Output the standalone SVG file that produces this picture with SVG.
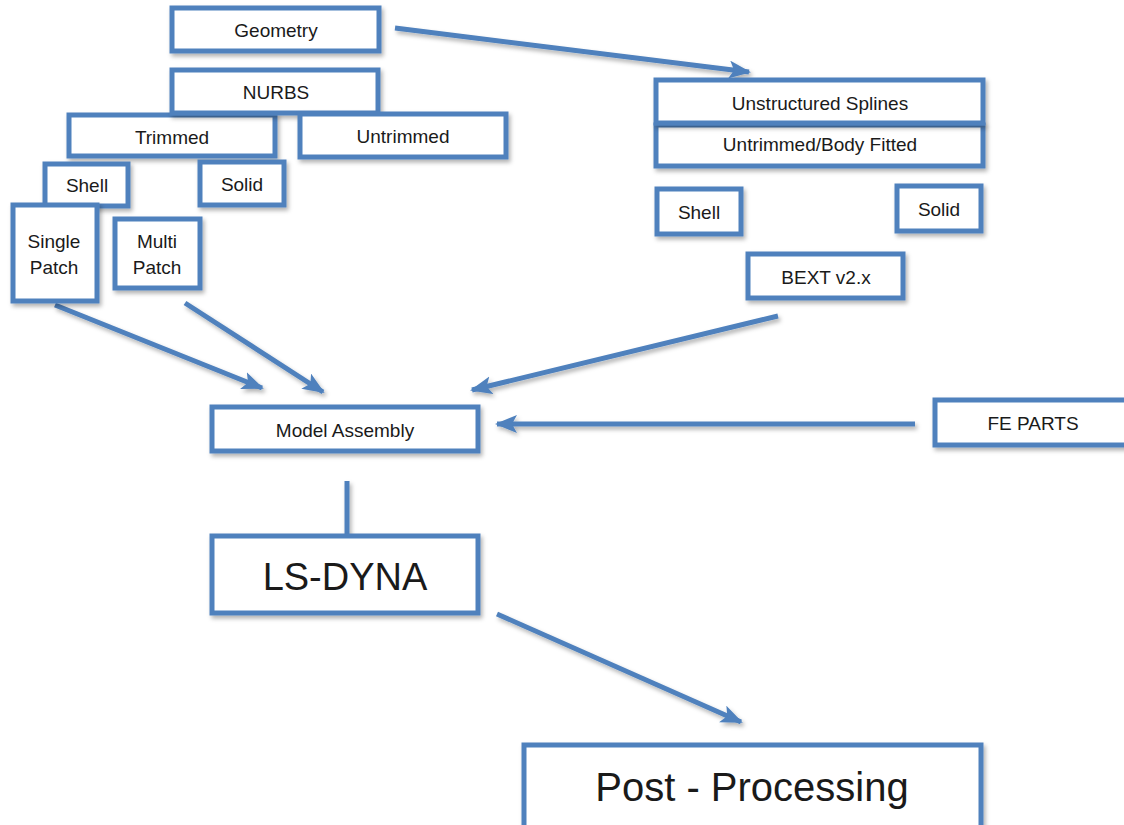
<svg xmlns="http://www.w3.org/2000/svg" width="1124" height="825" viewBox="0 0 1124 825">
<style>
.box{fill:#fff;stroke:#4F81BD;stroke-width:5;filter:url(#sh)}
.t{font-family:"Liberation Sans",Arial,sans-serif;font-size:19px;fill:#1a1a1a;text-anchor:middle;dominant-baseline:central}
.big{font-size:38px}
.huge{font-size:40px}
.c{stroke:#4F81BD;stroke-width:5;fill:none}
</style>
<defs>
<filter id="sh" x="-10%" y="-10%" width="130%" height="140%">
<feDropShadow dx="2" dy="3" stdDeviation="2" flood-color="#000" flood-opacity="0.3"/>
</filter>
<filter id="shl" filterUnits="userSpaceOnUse" x="0" y="0" width="1124" height="825">
<feDropShadow dx="2" dy="3" stdDeviation="2" flood-color="#000" flood-opacity="0.3"/>
</filter>
<marker id="ah" markerUnits="userSpaceOnUse" markerWidth="24" markerHeight="20" refX="20" refY="9" orient="auto">
<path d="M0,0 L22,9 L0,18 L5,9 z" fill="#4F81BD"/>
</marker>
</defs>
<g id="connectors" filter="url(#shl)">
<line class="c" x1="395" y1="28" x2="749" y2="72" marker-end="url(#ah)"/>
<line class="c" x1="55" y1="305" x2="262" y2="388" marker-end="url(#ah)"/>
<line class="c" x1="185" y1="303" x2="323" y2="392" marker-end="url(#ah)"/>
<line class="c" x1="778" y1="316" x2="472" y2="390" marker-end="url(#ah)"/>
<line class="c" x1="915" y1="424" x2="497" y2="424" marker-end="url(#ah)"/>
<line class="c" x1="347" y1="481" x2="347" y2="535"/>
<line class="c" x1="497" y1="614" x2="741" y2="722" marker-end="url(#ah)"/>
</g>
<g id="geometry"><rect class="box" x="172" y="8" width="207" height="43"/><text class="t" x="276" y="30">Geometry</text></g>
<g id="trimmed"><rect class="box" x="69" y="115" width="206" height="41"/><text class="t" x="172" y="137">Trimmed</text></g>
<g id="nurbs"><rect class="box" x="172" y="70" width="206" height="43"/><text class="t" x="276" y="92">NURBS</text></g>
<g id="untrimmed"><rect class="box" x="300" y="114" width="206" height="43"/><text class="t" x="403" y="136">Untrimmed</text></g>
<g id="shell-left"><rect class="box" x="45" y="164" width="83" height="42"/><text class="t" x="87" y="185">Shell</text></g>
<g id="solid-left"><rect class="box" x="200" y="162" width="84" height="43"/><text class="t" x="242" y="184">Solid</text></g>
<g id="single-patch"><rect class="box" x="13" y="205" width="84" height="96"/><text class="t" x="54" y="241">Single</text><text class="t" x="54" y="267">Patch</text></g>
<g id="multi-patch"><rect class="box" x="115" y="219" width="85" height="69"/><text class="t" x="157" y="241">Multi</text><text class="t" x="157" y="267">Patch</text></g>
<g id="body-fitted"><rect class="box" x="656" y="125" width="327" height="41"/><text class="t" x="820" y="144">Untrimmed/Body Fitted</text></g>
<g id="unstructured"><rect class="box" x="656" y="80" width="327" height="43"/><text class="t" x="820" y="103">Unstructured Splines</text></g>
<g id="shell-right"><rect class="box" x="657" y="189" width="84" height="45"/><text class="t" x="699" y="212">Shell</text></g>
<g id="solid-right"><rect class="box" x="897" y="186" width="84" height="45"/><text class="t" x="939" y="209">Solid</text></g>
<g id="bext"><rect class="box" x="748" y="254" width="155" height="44"/><text class="t" x="826" y="277">BEXT v2.x</text></g>
<g id="model-assembly"><rect class="box" x="212" y="407" width="266" height="44"/><text class="t" x="345" y="430">Model Assembly</text></g>
<g id="fe-parts"><rect class="box" x="935" y="400" width="200" height="45"/><text class="t" x="1033" y="423">FE PARTS</text></g>
<g id="ls-dyna"><rect class="box" x="212" y="536" width="266" height="77"/><text class="t big" x="345" y="577">LS-DYNA</text></g>
<g id="post-processing"><rect class="box" x="524" y="745" width="457" height="90"/><text class="t huge" x="752" y="787">Post - Processing</text></g>
</svg>
